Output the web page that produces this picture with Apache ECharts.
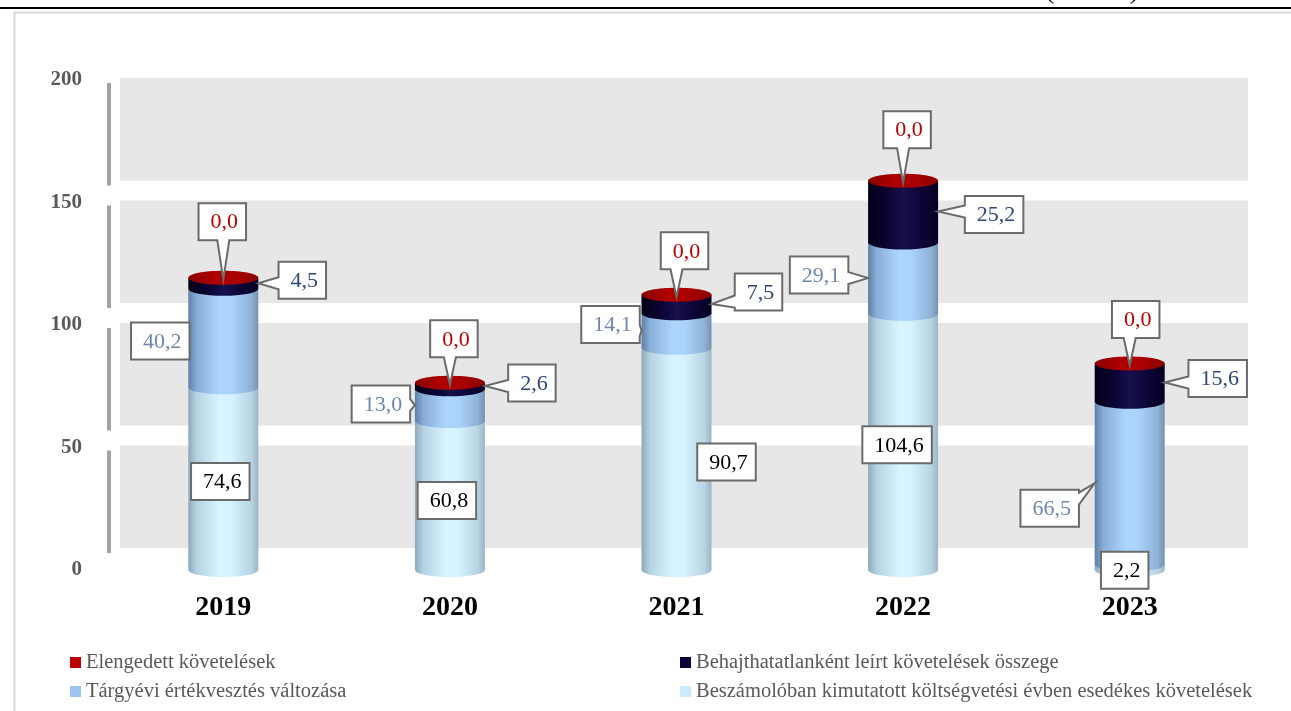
<!DOCTYPE html>
<html><head><meta charset="utf-8">
<script src="https://cdn.jsdelivr.net/npm/echarts@6/dist/echarts.min.js"></script>
<style>html,body{margin:0;padding:0;background:#fff}#c{width:1291px;height:711px}</style>
</head><body><div id="c"></div>
<script>
// ---------- data ----------
const categories = ['2019', '2020', '2021', '2022', '2023'];
const seriesNames = [
  'Beszámolóban kimutatott költségvetési évben esedékes követelések',
  'Tárgyévi értékvesztés változása',
  'Behajthatatlanként leírt követelések összege',
  'Elengedett követelések'
];
const beszamoloban   = [74.6, 60.8, 90.7, 104.6, 2.2];
const targyevi       = [40.2, 13.0, 14.1, 29.1, 66.5];
const behajthatatlan = [4.5, 2.6, 7.5, 25.2, 15.6];
const elengedett     = [0.0, 0.0, 0.0, 0.0, 0.0];
const yTicks = [0, 50, 100, 150, 200];

// ---------- layout / style (not data) ----------
const labelOffsets = [
  [[-3, 3], [-3, 5], [50, 3], [-6, 3], [-5, 3]],
  [[-63, 3], [-69, -1], [-66, -6], [-84, -3], [-80, 25]],
  [[79, -3], [82, -3], [82, -12], [91, 3], [88, -4]],
  [[-1, -56], [4, -44], [8, -44], [4, -51], [6, -44]]
];
const labelColors = ['#000000', '#6F87AD', '#2E4677', '#C00000'];
const legendColors = ['#CCEBFA', '#9DC3EE', '#0B0038', '#C00000'];
const gradStops = [
  [['#8FA8BA', 0], ['#B5D2E2', 0.12], ['#D8F5FF', 0.45], ['#D5F2FF', 0.62], ['#B8D3E2', 0.9], ['#9DB4C4', 1]],
  [['#5F7FA5', 0], ['#88ADD8', 0.12], ['#ADD6FF', 0.45], ['#AAD3FC', 0.62], ['#8FB1D6', 0.9], ['#7590B0', 1]],
  [['#040018', 0], ['#0A0535', 0.3], ['#16104C', 0.5], ['#0C0638', 0.75], ['#060024', 1]],
  [['#8A0000', 0], ['#B00000', 0.4], ['#A80000', 0.7], ['#8A0000', 1]]
];
const SERIF = '"Liberation Serif", "DejaVu Serif", serif';

function mkGrad(stops) {
  return new echarts.graphic.LinearGradient(0, 0, 1, 0, stops.map(s => ({ offset: s[1], color: s[0] })));
}
function fmt(v) { return v.toFixed(1).replace('.', ','); }

// stacking
const stackData = [beszamoloban, targyevi, behajthatatlan, elengedett];
const bases = [];
let cum = categories.map(() => 0);
stackData.forEach((arr, si) => {
  bases[si] = cum.slice();
  cum = cum.map((c, i) => c + arr[i]);
});

function callout(x0, y0, x1, y1, ax, ay, side) {
  const b = 6;
  const clamp = (v, lo, hi) => Math.max(lo, Math.min(hi, v));
  if (side === 'left') {
    const py = clamp(ay, y0 + b + 3, y1 - b - 3);
    return [[x0, y0], [x1, y0], [x1, y1], [x0, y1], [x0, py + b], [ax, ay], [x0, py - b]];
  }
  if (side === 'right') {
    const py = clamp(ay, y0 + b + 3, y1 - b - 3);
    return [[x0, y0], [x1, y0], [x1, py - b], [ax, ay], [x1, py + b], [x1, y1], [x0, y1]];
  }
  if (side === 'bottom') {
    const px = clamp(ax, x0 + b + 3, x1 - b - 3);
    return [[x0, y0], [x1, y0], [x1, y1], [px + b, y1], [ax, ay], [px - b, y1], [x0, y1]];
  }
  return [[x0, y0], [x1, y0], [x1, y1], [x0, y1]];
}

function makeRender(si) {
  return function (params, api) {
    const ci = api.value(0), b = api.value(1), t = api.value(2), v = api.value(3);
    const pB = api.coord([ci, b]);
    const pT = api.coord([ci, t]);
    const cx = pB[0], rx = 35, ry = 7;
    const children = [];
    if (pB[1] - pT[1] > 0.3) {
      children.push({
        type: 'path',
        shape: { pathData: `M${cx - rx},${pT[1]} L${cx - rx},${pB[1]} A${rx},${ry} 0 0 0 ${cx + rx},${pB[1]} L${cx + rx},${pT[1]} Z` },
        style: { fill: mkGrad(gradStops[si]) },
        z2: 1
      });
    }
    if (si === 3) {
      children.push({
        type: 'ellipse',
        shape: { cx: cx, cy: pT[1], rx: rx, ry: ry },
        style: { fill: mkGrad(gradStops[3]) },
        z2: 2
      });
    }
    // label
    const off = labelOffsets[si][ci];
    const midY = (pB[1] + pT[1]) / 2;
    const lx = cx + off[0], ly = midY + off[1];
    const txt = fmt(v);
    const digits = txt.replace(',', '').length;
    const fs = 22;
    const tw = fs * (0.5 * digits + 0.25);
    const bw = tw + 20, bh = 37;
    const x0 = lx - bw / 2, x1 = lx + bw / 2, y0 = ly - bh / 2, y1 = ly + bh / 2;
    let side = 'none', ax = 0, ay = 0;
    if (si === 3) { side = 'bottom'; ax = cx; ay = pT[1] + 2; }
    else if (x1 < cx - rx) { side = 'right'; ax = cx - rx; ay = midY; }
    else if (x0 > cx + rx) { side = 'left'; ax = cx + rx; ay = midY; }
    children.push({
      type: 'polygon',
      shape: { points: callout(x0, y0, x1, y1, ax, ay, side) },
      style: { fill: '#FFFFFF', stroke: '#6B6B6B', lineWidth: 2 },
      z2: 100
    });
    children.push({
      type: 'text',
      style: {
        text: txt, x: lx + 2, y: ly + 1, fill: labelColors[si], font: `${fs}px ${SERIF}`,
        align: 'center', verticalAlign: 'middle', textAlign: 'center', textVerticalAlign: 'middle'
      },
      z2: 101
    });
    return { type: 'group', children: children };
  };
}

const series = [{
  type: 'custom',
  name: '__bg',
  z: 1,
  silent: true,
  data: yTicks.slice(0, -1).map((v, i) => [0, v, yTicks[i + 1]]),
  encode: { x: 0, y: [1, 2] },
  renderItem: function (params, api) {
    const cs = params.coordSys;
    const yb = api.coord([0, api.value(1)])[1] - 22;
    const yt = api.coord([0, api.value(2)])[1] - 2;
    return {
      type: 'group', children: [
        { type: 'rect', shape: { x: cs.x + 10, y: yt, width: cs.width - 5, height: yb - yt }, style: { fill: '#E7E7E7' } },
        { type: 'rect', shape: { x: cs.x - 3, y: yt + 5, width: 4, height: yb - yt }, style: { fill: '#A3A3A3' } }
      ]
    };
  }
}];
stackData.forEach((arr, si) => {
  series.push({
    type: 'custom',
    name: seriesNames[si],
    itemStyle: { color: legendColors[si] },
    data: categories.map((c, i) => [i, bases[si][i], bases[si][i] + arr[i], arr[i]]),
    encode: { x: 0, y: [1, 2] },
    renderItem: makeRender(si)
  });
});

const legendText = { color: '#595959', fontSize: 20.5, fontFamily: SERIF, lineHeight: 20 };
const option = {
  animation: false,
  backgroundColor: '#FFFFFF',
  grid: { left: 110, right: 48, top: 80, bottom: 141 },
  xAxis: {
    type: 'category', data: categories,
    axisLine: { show: false }, axisTick: { show: false },
    axisLabel: { color: '#000', fontWeight: 'bold', fontSize: 28, fontFamily: SERIF, margin: 24 }
  },
  yAxis: {
    type: 'value', min: 0, max: 200, interval: 50,
    axisLine: { show: false }, axisTick: { show: false }, splitLine: { show: false },
    axisLabel: { color: '#595959', fontWeight: 'bold', fontSize: 21, fontFamily: SERIF, margin: 28 }
  },
  legend: [
    { left: 65, top: 647, orient: 'vertical', itemGap: 8, icon: 'rect', itemWidth: 11, itemHeight: 11, itemStyle: { borderWidth: 0 },
      data: [seriesNames[3], seriesNames[1]], textStyle: legendText, selectedMode: false },
    { left: 675, top: 647, orient: 'vertical', itemGap: 8, icon: 'rect', itemWidth: 11, itemHeight: 11, itemStyle: { borderWidth: 0 },
      data: [seriesNames[2], seriesNames[0]], textStyle: legendText, selectedMode: false }
  ],
  graphic: [
    { type: 'rect', left: 12, top: 10, shape: { width: 1300, height: 720 }, style: { fill: 'none', stroke: '#DADADA', lineWidth: 2 }, silent: true },
    { type: 'rect', left: 0, top: 7, shape: { width: 1291, height: 2 }, style: { fill: '#000' }, silent: true },
    { type: 'text', x: 1092, y: 5, style: { text: '(mrd Ft)', font: `28px ${SERIF}`, fill: '#000', align: 'center', verticalAlign: 'bottom', textAlign: 'center', textVerticalAlign: 'bottom' }, silent: true }
  ],
  series: series
};
const chart = echarts.init(document.getElementById('c'), null, { renderer: 'canvas' });
chart.setOption(option);
</script>
</body></html>
